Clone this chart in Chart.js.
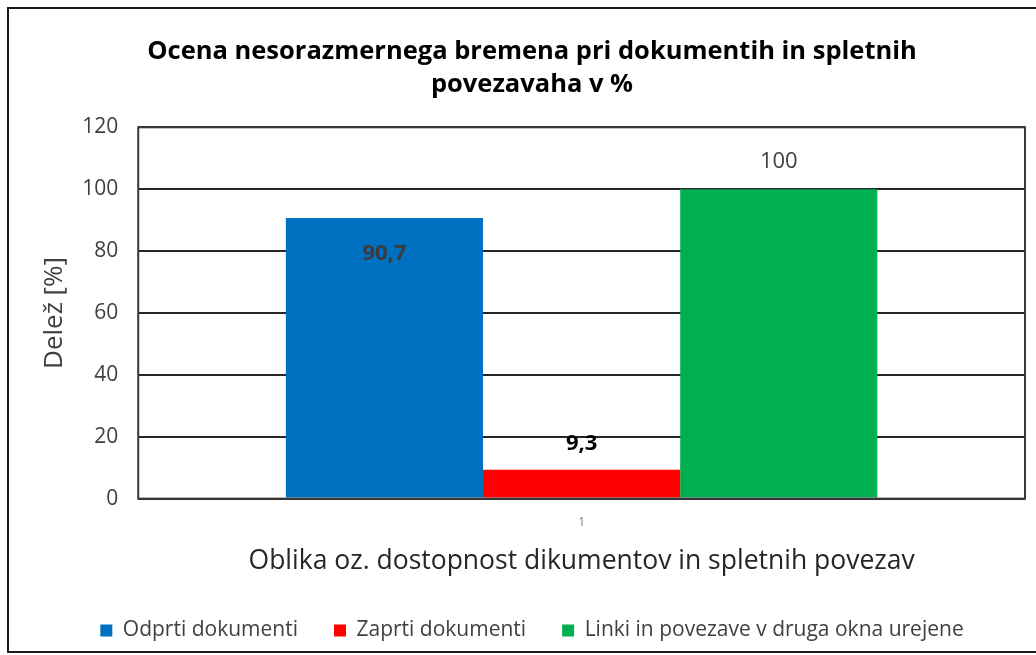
<!DOCTYPE html>
<html>
<head>
<meta charset="utf-8">
<script src="https://cdn.jsdelivr.net/npm/chart.js@4"></script>
<style>
  html, body { margin: 0; padding: 0; background: #fff; overflow: hidden; }
  #frame {
    position: absolute; left: 7px; top: 7px; width: 1040px; height: 646px;
    border: 2px solid #1a1a1a; box-sizing: border-box;
  }
  #chartCanvas { position: absolute; left: 0; top: 0; }
</style>
</head>
<body>
<div id="frame"></div>
<canvas id="chartCanvas" width="1036" height="655"></canvas>
<script>
// podatki grafa
const categories = ['1'];
const seriesNames = ['Odprti dokumenti', 'Zaprti dokumenti', 'Linki in povezave v druga okna urejene'];
const seriesValues = [[90.7], [9.3], [100]];
const valueLabels = ['90,7', '9,3', '100'];
const yTicks = [0, 20, 40, 60, 80, 100, 120];

const COLORS = ['#0070C0', '#FF0000', '#00B050'];
const FONT = '"Open Sans", Lato, sans-serif';

// okvir risalne ploskve
const plotBorder = {
    id: 'plotBorder',
    afterDatasetsDraw(chart) {
        const a = chart.chartArea;
        const ctx = chart.ctx;
        ctx.save();
        ctx.strokeStyle = '#3a3a3a';
        ctx.lineWidth = 2;
        ctx.strokeRect(a.left, a.top, a.right - a.left, a.bottom - a.top);
        ctx.restore();
    }
};

// oznake vrednosti nad stolpci
const valueLabelPlugin = {
    id: 'valueLabels',
    afterDatasetsDraw(chart) {
        const ctx = chart.ctx;
        ctx.save();
        ctx.textAlign = 'center';
        ctx.textBaseline = 'middle';
        chart.data.datasets.forEach((ds, i) => {
            const bar = chart.getDatasetMeta(i).data[0];
            if (!bar) return;
            const style = [
                { font: 'bold 22px ' + FONT, color: '#3b3b3b', dy: 36 },
                { font: 'bold 22px ' + FONT, color: '#000000', dy: -26 },
                { font: '22px ' + FONT, color: '#404040', dy: -27 }
            ][i];
            ctx.font = style.font;
            ctx.fillStyle = style.color;
            ctx.fillText(valueLabels[i], bar.x, bar.y + style.dy);
        });
        ctx.restore();
    }
};

const ctx = document.getElementById('chartCanvas').getContext('2d');
new Chart(ctx, {
    type: 'bar',
    data: {
        labels: categories,
        datasets: seriesNames.map((name, i) => ({
            label: name,
            data: seriesValues[i],
            backgroundColor: COLORS[i],
            borderWidth: 0,
            categoryPercentage: 0.667,
            barPercentage: 1.0
        }))
    },
    options: {
        responsive: false,
        animation: false,
        layout: { padding: { left: 39, right: 11, top: 35, bottom: 4 } },
        scales: {
            x: {
                grid: { display: false },
                border: { display: false },
                ticks: { color: '#7f7f7f', font: { family: FONT, size: 13 }, padding: 8 },
                title: {
                    display: true,
                    text: 'Oblika oz. dostopnost dikumentov in spletnih povezav',
                    color: '#262626',
                    font: { family: FONT, size: 26.5 },
                    padding: { top: 7, bottom: 7 }
                }
            },
            y: {
                min: 0,
                max: 120,
                afterBuildTicks(axis) { axis.ticks = yTicks.map(v => ({ value: v })); },
                grid: { color: '#262626', lineWidth: 2, drawTicks: false },
                border: { display: false },
                ticks: { color: '#404040', font: { family: FONT, size: 21 }, padding: 20 },
                title: {
                    display: true,
                    text: 'Delež [%]',
                    color: '#404040',
                    font: { family: FONT, size: 26 },
                    padding: { top: 0, bottom: -8 }
                }
            }
        },
        plugins: {
            title: {
                display: true,
                text: ['Ocena nesorazmernega bremena pri dokumentih in spletnih', 'povezavaha v %'],
                color: '#000000',
                font: { family: FONT, size: 25.5, weight: 'bold', lineHeight: 1.3 },
                padding: { top: 0, bottom: 26 }
            },
            legend: {
                position: 'bottom',
                labels: {
                    color: '#404040',
                    font: { family: FONT, size: 21 },
                    boxWidth: 12,
                    boxHeight: 12,
                    padding: 36
                }
            },
            tooltip: { enabled: false }
        }
    },
    plugins: [plotBorder, valueLabelPlugin]
});
</script>
</body>
</html>
